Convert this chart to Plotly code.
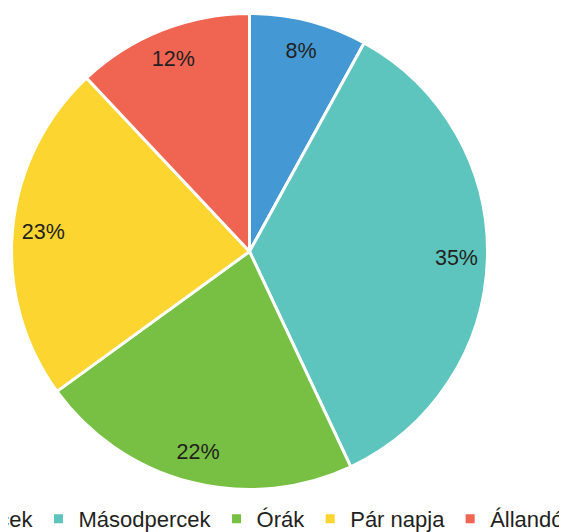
import plotly.graph_objects as go

# categories and shares (%), clockwise from 12 o'clock
labels = ["Percek", "Másodpercek", "Órák", "Pár napja", "Állandó"]
values = [8, 35, 22, 23, 12]
colors = ["#4499D4", "#5DC5BD", "#77C043", "#FCD530", "#F06551"]

W, H = 800, 532  # wider than the window: the legend is cropped on both sides in the reference
B = 42           # bottom margin that holds the legend
gh = H - B

dom = dict(x=[3.5 / W, 479.5 / W], y=[(gh - 482) / gh, (gh - 5) / gh])

fig = go.Figure()
# the pie itself
fig.add_trace(go.Pie(labels=labels, values=values,
                     sort=False, direction='clockwise', rotation=0,
                     marker=dict(colors=colors, line=dict(color='white', width=3)),
                     textinfo='none', hoverinfo='label+percent',
                     domain=dom))
# transparent ring, only to put the percentages near the rim
fig.add_trace(go.Pie(labels=labels, values=values, hole=0.74,
                     sort=False, direction='clockwise', rotation=0,
                     marker=dict(colors=['rgba(0,0,0,0)'] * len(values), line=dict(width=0)),
                     texttemplate='%{value}%', textinfo='text',
                     textposition='inside', insidetextorientation='horizontal',
                     textfont=dict(size=21.5, color='#231F20'),
                     showlegend=False, hoverinfo='skip',
                     domain=dom))

fig.update_layout(
    width=W, height=H,
    margin=dict(l=0, r=0, t=0, b=B, autoexpand=False),
    paper_bgcolor='white',
    font=dict(family='Liberation Sans, Arial', size=22, color='#231F20'),
    showlegend=True,
    legend=dict(orientation='h', x=-84 / W, xanchor='left', y=0, yanchor='top',
                itemclick=False, font=dict(size=22)),
)
fig.write_html("out.html")
